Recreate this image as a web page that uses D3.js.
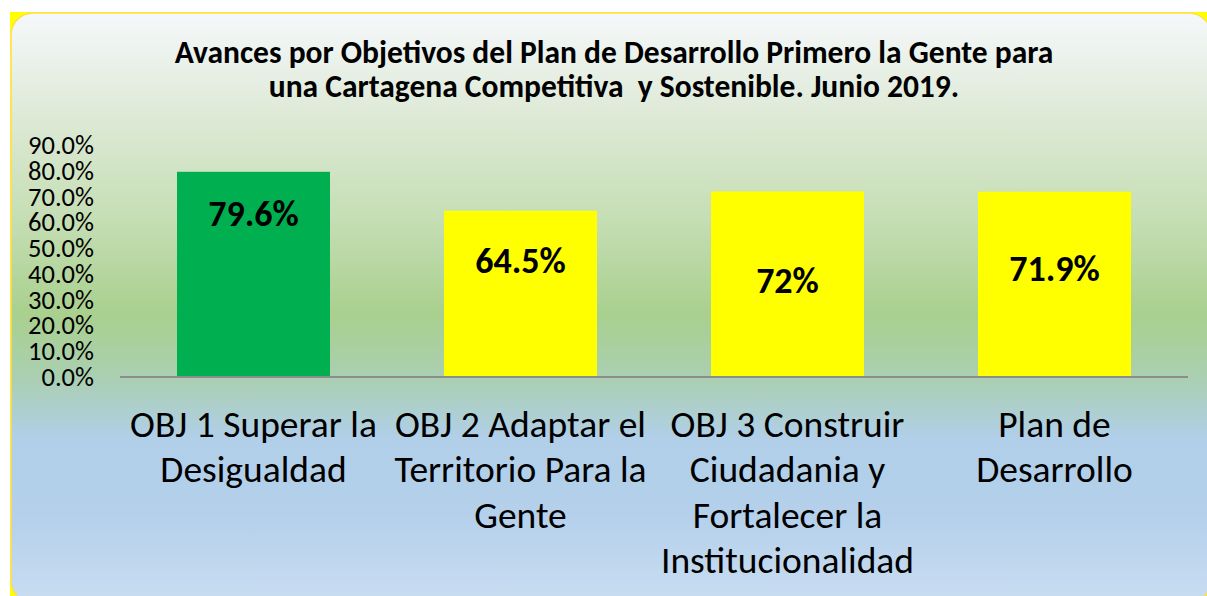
<!DOCTYPE html>
<html lang="es">
<head>
<meta charset="utf-8" />
<title>Avances por Objetivos</title>
<script src="https://d3js.org/d3.v7.min.js"></script>
<style>
    body { margin: 0; background: #fff; }
    svg text { font-family: Calibri, Carlito, "Noto Sans", sans-serif; fill: #000; }
</style>
</head>
<body>
<div id="chart"></div>
<script>

    // data
    const categories = ["OBJ 1", "OBJ 2", "OBJ 3", "Plan"];
    const values = [79.6, 64.5, 72, 71.9];
    const barColors = ["#00b050", "#ffff00", "#ffff00", "#ffff00"];
    const tickLines = [
        ["OBJ 1 Superar la", "Desigualdad"],
        ["OBJ 2 Adaptar el", "Territorio Para la", "Gente"],
        ["OBJ 3 Construir", "Ciudadania y", "Fortalecer la", "Institucionalidad"],
        ["Plan de", "Desarrollo"]
    ];
    const yTicks = [0, 10, 20, 30, 40, 50, 60, 70, 80, 90];
    const titleLines = [
        "Avances por Objetivos del Plan de Desarrollo Primero la Gente para",
        "una Cartagena Competitiva  y Sostenible. Junio 2019."
    ];

    // layout
    const W = 1207, H = 596;
    const plot = { left: 120, right: 1188, top: 145, bottom: 377 };
    // value labels sit at hand-placed depths inside each bar
    const labelDepth = [54, 62, 102, 89];

    const svg = d3.select("#chart").append("svg")
        .attr("width", W)
        .attr("height", H);

    // background gradient
    const defs = svg.append("defs");
    const grad = defs.append("linearGradient")
        .attr("id", "bg")
        .attr("x1", 0).attr("y1", 0)
        .attr("x2", 0).attr("y2", 1);
    [
        [0, "#f5f8fb"], [0.18, "#dde9d5"], [0.35, "#c5deb4"], [0.51, "#a9d08e"],
        [0.62, "#aacfb2"], [0.72, "#b1cfe8"], [0.85, "#b4d0eb"], [1, "#c9ddf1"]
    ].forEach(function (s) {
        grad.append("stop").attr("offset", s[0]).attr("stop-color", s[1]);
    });

    svg.append("rect")
        .attr("x", 10).attr("y", 12)
        .attr("width", W - 10).attr("height", H - 12)
        .attr("fill", "#ffff00");

    svg.append("rect")
        .attr("x", 11).attr("y", 13)
        .attr("width", 1200).attr("height", 590)
        .attr("rx", 22).attr("ry", 22)
        .attr("fill", "url(#bg)")
        .attr("stroke", "#ffe04a")
        .attr("stroke-width", 1.5);

    // title
    svg.append("g").selectAll("text")
        .data(titleLines)
        .enter().append("text")
        .attr("x", 614)
        .attr("y", (d, i) => 63 + i * 34)
        .attr("text-anchor", "middle")
        .attr("font-size", 31.5)
        .attr("font-weight", "bold")
        .attr("xml:space", "preserve")
        .text(d => d);

    // scales
    const x = d3.scaleBand()
        .domain(categories)
        .range([plot.left, plot.right])
        .paddingInner(0.427)
        .paddingOuter(0.2135);

    const y = d3.scaleLinear()
        .domain([0, 90])
        .range([plot.bottom, plot.top]);

    // y axis (labels only)
    const yAxis = d3.axisLeft(y)
        .tickValues(yTicks)
        .tickSize(0)
        .tickPadding(26)
        .tickFormat(d => d.toFixed(1) + "%");

    const yG = svg.append("g")
        .attr("transform", "translate(" + plot.left + ",0)")
        .call(yAxis);
    yG.select(".domain").remove();
    yG.selectAll("text")
        .attr("font-size", 26.5)
        .attr("font-family", null)
        .attr("fill", "#000");

    // bars
    svg.append("g").selectAll("rect")
        .data(values)
        .enter().append("rect")
        .attr("x", (d, i) => x(categories[i]))
        .attr("y", d => y(d))
        .attr("width", x.bandwidth())
        .attr("height", d => y(0) - y(d))
        .attr("fill", (d, i) => barColors[i]);

    // value labels
    svg.append("g").selectAll("text")
        .data(values)
        .enter().append("text")
        .attr("x", (d, i) => x(categories[i]) + x.bandwidth() / 2)
        .attr("y", (d, i) => y(d) + labelDepth[i])
        .attr("text-anchor", "middle")
        .attr("font-size", 36)
        .attr("font-weight", "bold")
        .text(d => d + "%");

    // category axis line
    svg.append("line")
        .attr("x1", plot.left).attr("x2", plot.right)
        .attr("y1", y(0)).attr("y2", y(0))
        .attr("stroke", "#8c8c8c")
        .attr("stroke-width", 2);

    // category labels, wrapped
    const xLab = svg.append("g").selectAll("text")
        .data(categories)
        .enter().append("text")
        .attr("text-anchor", "middle")
        .attr("font-size", 37.5);

    xLab.each(function (c, i) {
        d3.select(this).selectAll("tspan")
            .data(tickLines[i])
            .enter().append("tspan")
            .attr("x", x(c) + x.bandwidth() / 2)
            .attr("y", (d, j) => 437 + j * 45.3)
            .text(d => d);
    });

</script>
</body>
</html>
